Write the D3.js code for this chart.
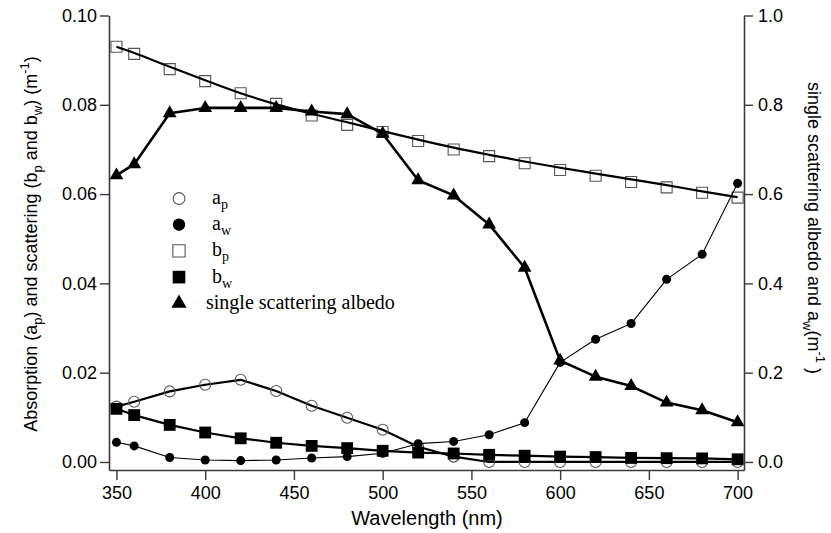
<!DOCTYPE html>
<html>
<head>
<meta charset="utf-8">
<script src="https://cdn.jsdelivr.net/npm/d3@7"></script>
<style>
  body { margin: 0; background: #ffffff; }
  svg { display: block; }
</style>
</head>
<body>
<svg id="chart" width="831" height="533"></svg>
<script>
// Wavelengths sampled (nm)
const wavelength = [350, 360, 380, 400, 420, 440, 460, 480, 500, 520, 540, 560, 580, 600, 620, 640, 660, 680, 700];

// Particle absorption a_p (m^-1), left axis
const apValues = [0.0124, 0.0135, 0.0158, 0.0173, 0.0184, 0.0159, 0.0126, 0.0099, 0.0072, 0.0034, 0.0012, 0, 0, 0, 0, 0, 0, 0, 0];

// Water absorption a_w (m^-1), right axis
const awValues = [0.044, 0.036, 0.010, 0.0045, 0.003, 0.0045, 0.009, 0.012, 0.0195, 0.041, 0.046, 0.061, 0.088, 0.223, 0.275, 0.310, 0.409, 0.465, 0.624];

// Particle scattering b_p (m^-1), left axis
const bpValues = [0.0930, 0.0914, 0.0880, 0.0853, 0.0826, 0.0802, 0.0776, 0.0755, 0.0739, 0.0719, 0.0700, 0.0685, 0.0669, 0.0654, 0.0641, 0.0627, 0.0615, 0.0603, 0.0592];

// Fitted b_p curve (m^-1), left axis
const bpFit = [0.0930, 0.0916, 0.0885, 0.0855, 0.0826, 0.0801, 0.0780, 0.0761, 0.0741, 0.0722, 0.0704, 0.0688, 0.0673, 0.0659, 0.0646, 0.0633, 0.0620, 0.0606, 0.0593];

// Water scattering b_w (m^-1), left axis
const bwValues = [0.0119, 0.0105, 0.0083, 0.0066, 0.0053, 0.0043, 0.0036, 0.0031, 0.0025, 0.0021, 0.0019, 0.0016, 0.0014, 0.0012, 0.0011, 0.0009, 0.00085, 0.0008, 0.0006];

// Single scattering albedo, right axis
const albedoValues = [0.642, 0.667, 0.781, 0.793, 0.793, 0.793, 0.785, 0.779, 0.735, 0.631, 0.597, 0.532, 0.435, 0.227, 0.191, 0.170, 0.133, 0.116, 0.089];

// Tick labels
const xTicks = [350, 400, 450, 500, 550, 600, 650, 700];
const leftTicks = [0, 0.02, 0.04, 0.06, 0.08, 0.10];
const rightTicks = [0, 0.2, 0.4, 0.6, 0.8, 1.0];

const svg = d3.select("#chart");

const x = d3.scaleLinear().domain([345.8, 703.6]).range([109, 744]);
const yL = d3.scaleLinear().domain([-0.0018, 0.1]).range([470, 15.5]);
const yR = d3.scaleLinear().domain([-0.018, 1.0]).range([470, 15.5]);

const axisColor = "#3a3a3a";
const sansFont = "'Liberation Sans', Arial, Helvetica, sans-serif";
const serifFont = "'Liberation Serif', 'Times New Roman', serif";

function styleAxis(g) {
  g.select(".domain").attr("stroke", axisColor).attr("stroke-width", 1.6);
  g.selectAll(".tick line").attr("stroke", axisColor).attr("stroke-width", 1.4);
  g.selectAll(".tick text").attr("fill", "#000").style("font-family", sansFont).style("font-size", "18px");
}

// Axes
svg.append("g")
  .attr("transform", "translate(109,0)")
  .call(d3.axisLeft(yL).tickValues(leftTicks).tickFormat(d3.format(".2f")).tickSize(9).tickSizeOuter(0).tickPadding(3))
  .call(styleAxis);

svg.append("g")
  .attr("transform", "translate(744,0)")
  .call(d3.axisRight(yR).tickValues(rightTicks).tickFormat(d3.format(".1f")).tickSize(9).tickSizeOuter(0).tickPadding(5))
  .call(styleAxis);

svg.append("g")
  .attr("transform", "translate(0,470)")
  .call(d3.axisBottom(x).tickValues(xTicks).tickFormat(d3.format("d")).tickSize(10).tickSizeOuter(0).tickPadding(6))
  .call(styleAxis);

// Axis titles
svg.append("text")
  .attr("x", 427).attr("y", 525)
  .attr("text-anchor", "middle")
  .style("font-family", sansFont).style("font-size", "20px")
  .text("Wavelength (nm)");

function titleWithScripts(sel, parts) {
  parts.forEach(p => {
    const t = sel.append("tspan").text(p.t);
    if (p.sub) t.attr("dy", 5).style("font-size", "13px");
    else if (p.sup) t.attr("dy", -8).style("font-size", "13px");
    if (p.back) t.attr("dy", p.back);
  });
}

const leftTitle = svg.append("text")
  .attr("transform", "translate(37,244) rotate(-90)")
  .attr("text-anchor", "middle")
  .style("font-family", sansFont).style("font-size", "18px");
titleWithScripts(leftTitle, [
  { t: "Absorption (a" }, { t: "p", sub: true }, { t: ") and scattering (b", back: -5 },
  { t: "p", sub: true }, { t: " and b", back: -5 }, { t: "w", sub: true },
  { t: ") (m", back: -5 }, { t: "-1", sup: true }, { t: ")", back: 8 }
]);

const rightTitle = svg.append("text")
  .attr("transform", "translate(808,228) rotate(90)")
  .attr("text-anchor", "middle")
  .style("font-family", sansFont).style("font-size", "18px");
titleWithScripts(rightTitle, [
  { t: "single scattering albedo and a" }, { t: "w", sub: true },
  { t: "(m", back: -5 }, { t: "-1", sup: true }, { t: " )", back: 8 }
]);

// Series drawing helpers
const rows = wavelength.map((w, i) => ({
  w, ap: apValues[i], aw: awValues[i], bp: bpValues[i], fit: bpFit[i], bw: bwValues[i], alb: albedoValues[i]
}));

function drawLine(key, yScale, width, curve) {
  svg.append("path")
    .datum(rows)
    .attr("fill", "none")
    .attr("stroke", "#000")
    .attr("stroke-width", width)
    .attr("stroke-linejoin", "round")
    .attr("d", d3.line().x(d => x(d.w)).y(d => yScale(d[key])).curve(curve || d3.curveLinear));
}

function drawMarkers(key, yScale, type, size, filled) {
  svg.append("g").selectAll("path")
    .data(rows)
    .join("path")
    .attr("transform", d => `translate(${x(d.w)},${yScale(d[key])})`)
    .attr("d", d3.symbol().type(type).size(size))
    .attr("fill", filled ? "#000" : "none")
    .attr("stroke", filled ? "#000" : "#555")
    .attr("stroke-width", filled ? 0 : 1.1);
}

// a_p
drawLine("ap", yL, 2.2);
drawMarkers("ap", yL, d3.symbolCircle, 95, false);

// b_p points and fit
drawMarkers("bp", yL, d3.symbolSquare, 121, false);
drawLine("fit", yL, 2.2, d3.curveMonotoneX);

// a_w
drawLine("aw", yR, 1.1);
drawMarkers("aw", yR, d3.symbolCircle, 64, true);

// single scattering albedo
drawLine("alb", yR, 2.6);
drawMarkers("alb", yR, d3.symbolTriangle, 82, true);

// b_w
drawLine("bw", yL, 2.2);
drawMarkers("bw", yL, d3.symbolSquare, 140, true);

// Legend
const legendItems = [
  { type: d3.symbolCircle, size: 110, filled: false, label: "a", sub: "p" },
  { type: d3.symbolCircle, size: 120, filled: true, label: "a", sub: "w" },
  { type: d3.symbolSquare, size: 150, filled: false, label: "b", sub: "p" },
  { type: d3.symbolSquare, size: 160, filled: true, label: "b", sub: "w" },
  { type: d3.symbolTriangle, size: 100, filled: true, label: "single scattering albedo", sub: null }
];

const legend = svg.append("g");
legendItems.forEach((item, i) => {
  const cy = 198.5 + i * 26.2;
  legend.append("path")
    .attr("transform", `translate(179,${cy})`)
    .attr("d", d3.symbol().type(item.type).size(item.size))
    .attr("fill", item.filled ? "#000" : "none")
    .attr("stroke", item.filled ? "none" : "#555")
    .attr("stroke-width", 1.1);
  const t = legend.append("text")
    .attr("x", item.sub ? 212 : 206)
    .attr("y", cy + 5.5)
    .style("font-family", serifFont).style("font-size", "20px")
    .text(item.label);
  if (item.sub) {
    t.append("tspan").attr("dy", 5).style("font-size", "14px").text(item.sub);
  }
});
</script>
</body>
</html>
